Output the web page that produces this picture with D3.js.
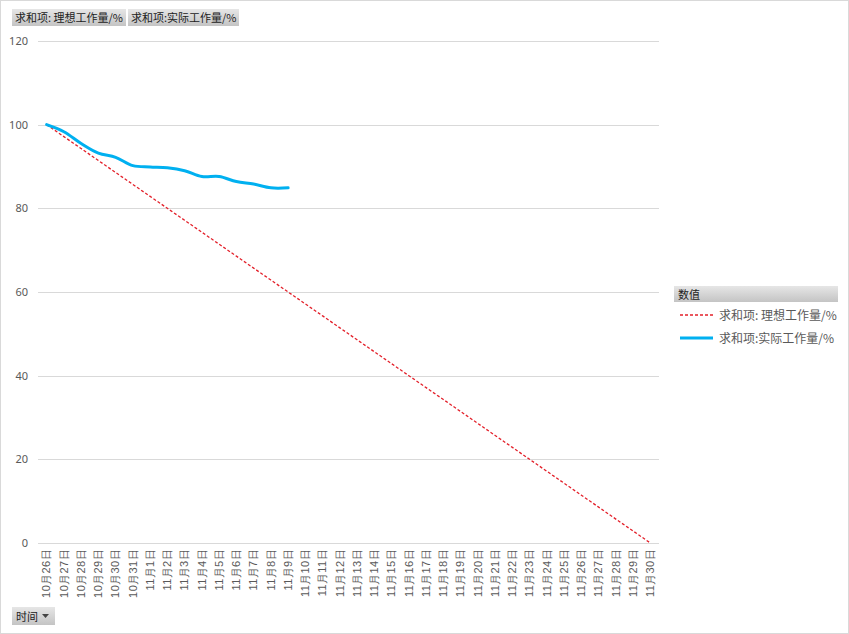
<!DOCTYPE html>
<html><head><meta charset="utf-8">
<script src="https://cdn.jsdelivr.net/npm/d3@7"></script>
<style>
html,body{margin:0;padding:0;background:#fff;}
svg{display:block;font-family:"Noto Sans CJK SC","Noto Sans",sans-serif;}
</style></head>
<body>
<svg id="c" width="849" height="634"></svg>
<script>
const dates = ["10月26日","10月27日","10月28日","10月29日","10月30日","10月31日",
 "11月1日","11月2日","11月3日","11月4日","11月5日","11月6日","11月7日","11月8日","11月9日","11月10日",
 "11月11日","11月12日","11月13日","11月14日","11月15日","11月16日","11月17日","11月18日","11月19日","11月20日",
 "11月21日","11月22日","11月23日","11月24日","11月25日","11月26日","11月27日","11月28日","11月29日","11月30日"];
const idealWork = [100,97.14,94.29,91.43,88.57,85.71,82.86,80,77.14,74.29,71.43,68.57,65.71,62.86,60,57.14,
 54.29,51.43,48.57,45.71,42.86,40,37.14,34.29,31.43,28.57,25.71,22.86,20,17.14,14.29,11.43,8.57,5.71,2.86,0];
const actualWork = [100,98.3,95.5,93.2,92.2,90.2,89.9,89.7,89.0,87.6,87.6,86.4,85.8,84.9,84.9];
const yTicks = [0,20,40,60,80,100,120];
const seriesNames = ["求和项: 理想工作量/%","求和项:实际工作量/%"];
const legendTitle = "数值";
const axisFieldName = "时间";

const svg = d3.select("#c");
const defs = svg.append("defs");
const g1 = defs.append("linearGradient").attr("id","btn").attr("x1",0).attr("y1",0).attr("x2",0).attr("y2",1);
g1.append("stop").attr("offset","0%").attr("stop-color","#e6e6e6");
g1.append("stop").attr("offset","100%").attr("stop-color","#c4c4c4");

// frame
svg.append("rect").attr("x",0.5).attr("y",0.5).attr("width",848).attr("height",633)
  .attr("fill","#fff").attr("stroke","#d9d9d9");

const plot = {left:38, right:659, top:41, bottom:543};
const x = d3.scaleBand().domain(dates).range([plot.left, plot.right]);
const y = d3.scaleLinear().domain([0,120]).range([plot.bottom, plot.top]);

// gridlines
svg.append("g").selectAll("line").data(yTicks).join("line")
  .attr("x1",plot.left).attr("x2",plot.right)
  .attr("y1",d=>Math.round(y(d))+0.5).attr("y2",d=>Math.round(y(d))+0.5)
  .attr("stroke","#d9d9d9").attr("stroke-width",1);

// y axis labels
const yAxis = d3.axisLeft(y).tickValues(yTicks).tickSize(0).tickPadding(0);
const yg = svg.append("g").attr("transform",`translate(${plot.left-10},0)`).call(yAxis);
yg.select(".domain").remove();
yg.selectAll("text").attr("fill","#595959").style("font-size","11px").style("font-family","'Noto Sans','Open Sans',sans-serif");

// x axis labels
const xAxis = d3.axisBottom(x).tickSize(0).tickPadding(0);
const xg = svg.append("g").attr("transform",`translate(0,${plot.bottom})`).call(xAxis);
xg.select(".domain").remove();
xg.selectAll("text")
  .attr("fill","#595959").style("font-size","11px").style("letter-spacing","0.4px")
  .attr("text-anchor","end")
  .attr("transform","rotate(-90)")
  .attr("x",-6).attr("y",0).attr("dy","0.35em");

// lines
const idealLine = d3.line().x((d,i)=>x(dates[i])+x.bandwidth()/2).y(d=>y(d));
svg.append("path").datum(idealWork).attr("d",idealLine)
  .attr("fill","none").attr("stroke","#e3202a").attr("stroke-width",1.3).attr("stroke-dasharray","3,2");
const actualLine = d3.line().x((d,i)=>x(dates[i])+x.bandwidth()/2).y(d=>y(d)).curve(d3.curveCatmullRom.alpha(0.5));
svg.append("path").datum(actualWork).attr("d",actualLine)
  .attr("fill","none").attr("stroke","#00b0f0").attr("stroke-width",3).attr("stroke-linecap","round");

// top buttons
const btns = [{x:12,w:114,t:seriesNames[0]},{x:128,w:111,t:seriesNames[1]}];
btns.forEach(b=>{
  svg.append("rect").attr("x",b.x).attr("y",9).attr("width",b.w).attr("height",17).attr("fill","url(#btn)");
  svg.append("text").attr("x",b.x+3).attr("y",21.5).text(b.t).attr("fill","#222").style("font-size","11px");
});

// legend
svg.append("rect").attr("x",674).attr("y",286).attr("width",164).attr("height",16).attr("fill","url(#btn)");
svg.append("text").attr("x",678).attr("y",298.5).text(legendTitle).attr("fill","#222").style("font-size","11px");
svg.append("line").attr("x1",680).attr("x2",713).attr("y1",315).attr("y2",315)
  .attr("stroke","#e3202a").attr("stroke-width",1.3).attr("stroke-dasharray","3,2");
svg.append("text").attr("x",719).attr("y",319.5).text(seriesNames[0]).attr("fill","#595959").style("font-size","12px");
svg.append("line").attr("x1",680).attr("x2",713).attr("y1",338).attr("y2",338)
  .attr("stroke","#00b0f0").attr("stroke-width",3);
svg.append("text").attr("x",719).attr("y",342.5).text(seriesNames[1]).attr("fill","#595959").style("font-size","12px");

// bottom field button
svg.append("rect").attr("x",12).attr("y",607).attr("width",43).attr("height",18).attr("fill","url(#btn)");
svg.append("text").attr("x",16).attr("y",620.5).text(axisFieldName).attr("fill","#222").style("font-size","11px");
svg.append("path").attr("d","M42,614 L49,614 L45.5,618 Z").attr("fill","#444");
</script>
</body></html>
